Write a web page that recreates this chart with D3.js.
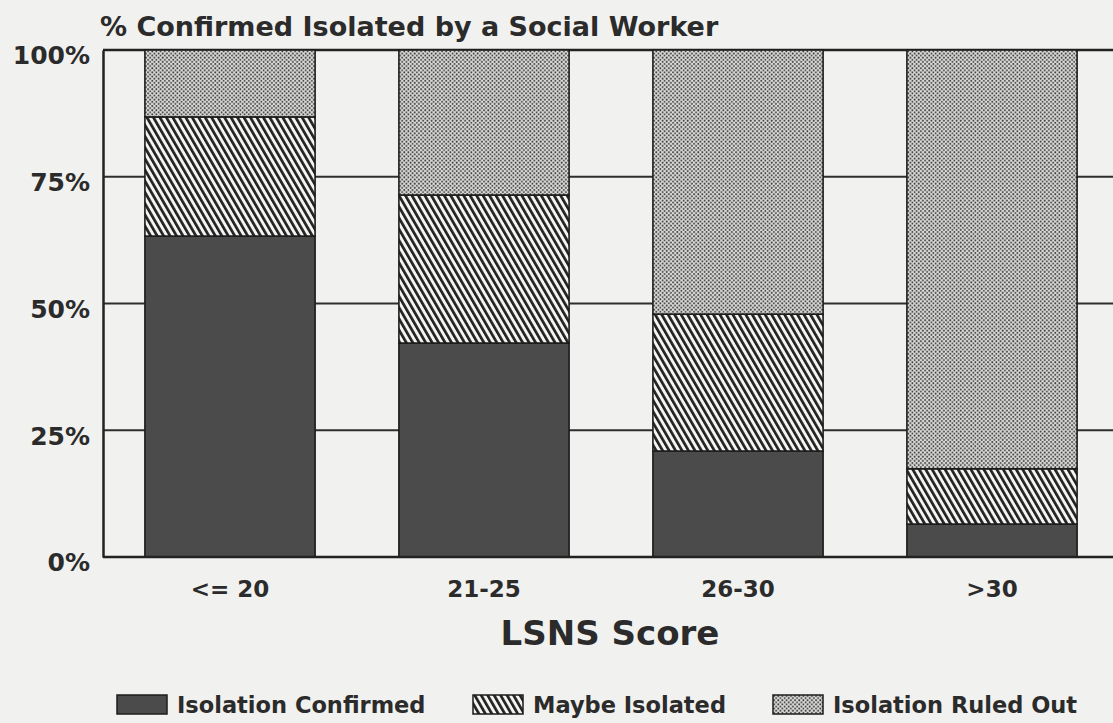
<!DOCTYPE html>
<html>
<head>
<meta charset="utf-8">
<script src="https://cdn.jsdelivr.net/npm/d3@7"></script>
<style>
  html, body { margin: 0; padding: 0; background: #f1f1ef; }
  svg { display: block; }
  text { font-family: "DejaVu Sans", sans-serif; fill: #2b2b2b; }
</style>
</head>
<body>
<svg id="chart" width="1113" height="723"></svg>
<script>
// ---- data ----
const categories = ["<= 20", "21-25", "26-30", ">30"];
const seriesNames = ["Isolation Confirmed", "Maybe Isolated", "Isolation Ruled Out"];
const confirmed = [63.3, 42.2, 20.9, 6.5];
const maybe = [23.5, 29.2, 27.0, 10.9];
const ruledOut = [13.2, 28.6, 52.1, 82.6];
const yTicks = [0, 25, 50, 75, 100];
const titleText = "% Confirmed Isolated by a Social Worker";
const xTitle = "LSNS Score";

(function () {
const rows = categories.map((c, i) => ({
  cat: c,
  "Isolation Confirmed": confirmed[i],
  "Maybe Isolated": maybe[i],
  "Isolation Ruled Out": ruledOut[i]
}));

const svg = d3.select("#chart");
const W = 1113;
const mLeft = 103, mRight = 1119, mTop = 50, mBottom = 557;

// patterns
const defs = svg.append("defs");
const hatch = defs.append("pattern")
  .attr("id", "hatch").attr("patternUnits", "userSpaceOnUse")
  .attr("width", 5.6).attr("height", 10)
  .attr("patternTransform", "rotate(-30)");
hatch.append("rect").attr("width", 5.6).attr("height", 10).attr("fill", "#f4f4f2");
hatch.append("rect").attr("x", 0).attr("width", 2.7).attr("height", 10).attr("fill", "#222");

const dots = defs.append("pattern")
  .attr("id", "dots").attr("patternUnits", "userSpaceOnUse")
  .attr("width", 4.2).attr("height", 4.2);
dots.append("rect").attr("width", 4.2).attr("height", 4.2).attr("fill", "#dcdcda");
dots.append("circle").attr("cx", 1.05).attr("cy", 1.05).attr("r", 0.95).attr("fill", "#3a3a3a");
dots.append("circle").attr("cx", 3.15).attr("cy", 3.15).attr("r", 0.95).attr("fill", "#3a3a3a");

const fills = {
  "Isolation Confirmed": "#4b4b4b",
  "Maybe Isolated": "url(#hatch)",
  "Isolation Ruled Out": "url(#dots)"
};

// scales
const x = d3.scaleBand().domain(categories).range([mLeft, mRight])
  .paddingInner(0.33).paddingOuter(0.165);
const y = d3.scaleLinear().domain([0, 100]).range([mBottom, mTop]);

// gridlines (behind bars)
svg.append("g").attr("class", "grid")
  .selectAll("line").data(yTicks.filter(d => d > 0 && d < 100)).join("line")
  .attr("x1", mLeft).attr("x2", W)
  .attr("y1", d => y(d)).attr("y2", d => y(d))
  .attr("stroke", "#2e2e2e").attr("stroke-width", 2);

// top frame line
svg.append("line").attr("x1", mLeft).attr("x2", W)
  .attr("y1", y(100)).attr("y2", y(100))
  .attr("stroke", "#222").attr("stroke-width", 2.5);

// stacked bars
const stack = d3.stack().keys(seriesNames);
const layers = stack(rows);
svg.append("g").selectAll("g").data(layers).join("g")
  .attr("fill", d => fills[d.key])
  .selectAll("rect").data(d => d).join("rect")
  .attr("x", d => x(d.data.cat))
  .attr("width", x.bandwidth())
  .attr("y", d => y(d[1]))
  .attr("height", d => y(d[0]) - y(d[1]))
  .attr("stroke", "#1c1c1c").attr("stroke-width", 1.6);

// left axis
const yAxis = svg.append("g").attr("transform", `translate(${mLeft},0)`)
  .call(d3.axisLeft(y).tickValues(yTicks).tickFormat(d => d + "%").tickSize(0).tickPadding(13));
yAxis.select(".domain").attr("stroke", "#222").attr("stroke-width", 2.5);
yAxis.selectAll("text")
  .attr("dy", "0.55em")
  .style("font-family", "'DejaVu Sans', sans-serif")
  .style("font-weight", "bold").style("font-size", "25px").attr("fill", "#2b2b2b");

// bottom axis
const xAxis = svg.append("g").attr("transform", `translate(0,${mBottom})`)
  .call(d3.axisBottom(x).tickSize(0).tickPadding(24));
xAxis.select(".domain").remove();
svg.append("line").attr("x1", mLeft).attr("x2", W)
  .attr("y1", mBottom).attr("y2", mBottom)
  .attr("stroke", "#222").attr("stroke-width", 2.5);
xAxis.selectAll("text")
  .style("font-family", "'DejaVu Sans', sans-serif")
  .style("font-weight", "bold").style("font-size", "23px").attr("fill", "#2b2b2b");

// title
svg.append("text").attr("x", 100).attr("y", 36)
  .style("font-weight", "bold").style("font-size", "27px")
  .text(titleText);

// x title
svg.append("text").attr("x", 610).attr("y", 645)
  .attr("text-anchor", "middle")
  .style("font-weight", "bold").style("font-size", "34px")
  .text(xTitle);

// legend
const legendX = [117, 473, 773];
const lg = svg.append("g").selectAll("g").data(seriesNames).join("g")
  .attr("transform", (d, i) => `translate(${legendX[i]},695)`);
lg.append("rect").attr("width", 50).attr("height", 19)
  .attr("fill", d => fills[d]).attr("stroke", "#1c1c1c").attr("stroke-width", 1.5);
lg.append("text").attr("x", 60).attr("y", 18)
  .style("font-weight", "bold").style("font-size", "22.5px")
  .text(d => d);
})();
</script>
</body>
</html>
